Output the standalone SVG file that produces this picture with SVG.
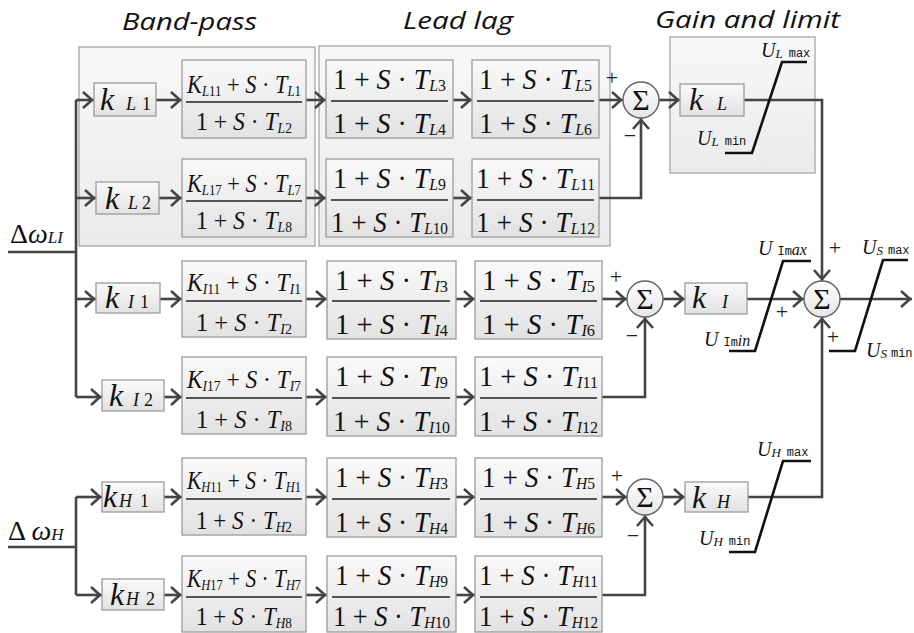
<svg xmlns="http://www.w3.org/2000/svg" width="914" height="633" viewBox="0 0 914 633">
<defs>
<linearGradient id="gb" x1="0" y1="0" x2="0" y2="1"><stop offset="0" stop-color="#fafafa"/><stop offset="1" stop-color="#e2e2e2"/></linearGradient>
<linearGradient id="gg" x1="0" y1="0" x2="0" y2="1"><stop offset="0" stop-color="#f8f8f8"/><stop offset="1" stop-color="#ebebeb"/></linearGradient>
<linearGradient id="gc" x1="0" y1="0" x2="0" y2="1"><stop offset="0" stop-color="#ffffff"/><stop offset="1" stop-color="#e6e6e6"/></linearGradient>
<marker id="ar" viewBox="-13 -10 14 20" refX="0" refY="0" markerWidth="14" markerHeight="20" markerUnits="userSpaceOnUse" orient="auto"><path d="M-11,-8 L-2,0 L-11,8" fill="none" stroke="#444" stroke-width="2.6"/></marker>
<style>
.t{font-family:"Liberation Serif",serif;fill:#111}
.i{font-style:italic}
.box{fill:url(#gb);stroke:#9c9c9c;stroke-width:1.3}
.grp{fill:url(#gg);stroke:#a6a6a6;stroke-width:1.3}
.sum{fill:url(#gc);stroke:#666;stroke-width:1.5}
.fl{stroke:#222;stroke-width:1.6}
.w{fill:none;stroke:#444;stroke-width:2.6}
.a{marker-end:url(#ar)}
.lim{fill:none;stroke:#111;stroke-width:2.6}
.bn{font-size:26px}
.ln{font-size:30px}
.sb{font-size:15px}
.sl{font-size:17px}
.kk{font-size:32px;font-style:italic}
.ks{font-size:18px}
.ttl{font-family:"Open Sans",sans-serif;font-style:italic;font-size:23px;fill:#111}
.sg{font-family:"Liberation Serif",serif;font-size:22px;fill:#222;text-anchor:middle}
.sig{font-family:"Liberation Serif",serif;font-size:30px;fill:#111;text-anchor:middle}
.u{font-family:"Liberation Serif",serif;font-style:italic;font-size:20px;fill:#111}
.us{font-size:13px}
.ui{font-size:16px}
.m{font-family:"Liberation Mono",monospace;font-style:normal;font-size:12px}
</style>
</defs>

<g id="titles">
<text class="ttl" x="122" y="30" textLength="135" lengthAdjust="spacingAndGlyphs">Band-pass</text>
<text class="ttl" x="403" y="29" textLength="110" lengthAdjust="spacingAndGlyphs">Lead lag</text>
<text class="ttl" x="655" y="28" textLength="185" lengthAdjust="spacingAndGlyphs">Gain and limit</text>
</g>

<g id="group-boxes">
<rect class="grp" x="79" y="47" width="236" height="199"/>
<rect class="grp" x="319" y="46" width="291" height="200"/>
<rect class="grp" x="670" y="37" width="145" height="136"/>
</g>

<g id="connectors">
<path class="w" d="M8,252 H76 M76,100 V397"/>
<path class="w a" d="M76,100 H94"/>
<path class="w a" d="M76,198 H96"/>
<path class="w a" d="M76,299 H96"/>
<path class="w a" d="M76,397 H102"/>
<path class="w" d="M8,547 H76 M76,497 V595"/>
<path class="w a" d="M76,497 H102"/>
<path class="w a" d="M76,595 H102"/>
<path class="w a" d="M156,100 H182"/>
<path class="w a" d="M159,198 H182"/>
<path class="w a" d="M160,299 H182"/>
<path class="w a" d="M164,397 H182"/>
<path class="w a" d="M164,497 H182"/>
<path class="w a" d="M164,595 H182"/>
<path class="w a" d="M306,100 H326"/>
<path class="w a" d="M306,198 H326"/>
<path class="w a" d="M306,299 H327"/>
<path class="w a" d="M306,397 H327"/>
<path class="w a" d="M306,497 H327"/>
<path class="w a" d="M306,595 H327"/>
<path class="w a" d="M453,100 H472"/>
<path class="w a" d="M453,198 H472"/>
<path class="w a" d="M456,299 H475"/>
<path class="w a" d="M456,397 H475"/>
<path class="w a" d="M456,497 H475"/>
<path class="w a" d="M456,595 H475"/>
<path class="w a" d="M599,100 H623"/>
<path class="w a" d="M599,198 H641 V118"/>
<path class="w a" d="M602,299 H627"/>
<path class="w a" d="M602,397 H645 V317"/>
<path class="w a" d="M602,497 H627"/>
<path class="w a" d="M602,595 H645 V515"/>
<path class="w a" d="M659,100 H680"/>
<path class="w a" d="M663,299 H685"/>
<path class="w a" d="M663,497 H685"/>
<path class="w a" d="M744,100 H822 V281"/>
<path class="w a" d="M747,299 H804"/>
<path class="w a" d="M748,497 H822 V317"/>
<path class="w a" d="M840,299 H912"/>
</g>

<g id="inputs">
<text class="t" x="10" y="243" font-size="28">Δ<tspan class="i">ω</tspan><tspan class="i" font-size="17">LI</tspan></text>
<text class="t" x="8" y="540" font-size="28">Δ <tspan class="i">ω</tspan><tspan class="i" font-size="17">H</tspan></text>
</g>

<g id="kL1"><rect class="box" x="94" y="83" width="62" height="33"/><text class="t" y="110"><tspan class="kk" x="100">k</tspan><tspan class="ks i" x="126">L</tspan><tspan class="ks" x="142">1</tspan></text></g>
<g id="kL2"><rect class="box" x="96" y="182" width="63" height="32"/><text class="t" y="209"><tspan class="kk" x="105">k</tspan><tspan class="ks i" x="128">L</tspan><tspan class="ks" x="142">2</tspan></text></g>
<g id="kI1"><rect class="box" x="96" y="283" width="64" height="30"/><text class="t" y="308"><tspan class="kk" x="105">k</tspan><tspan class="ks i" x="128">I</tspan><tspan class="ks" x="140">1</tspan></text></g>
<g id="kI2"><rect class="box" x="102" y="380" width="62" height="31"/><text class="t" y="406"><tspan class="kk" x="109">k</tspan><tspan class="ks i" x="133">I</tspan><tspan class="ks" x="144">2</tspan></text></g>
<g id="kH1"><rect class="box" x="102" y="482" width="62" height="30"/><text class="t" y="507"><tspan class="kk" x="103">k</tspan><tspan class="ks i" x="119">H</tspan><tspan class="ks" x="140">1</tspan></text></g>
<g id="kH2"><rect class="box" x="102" y="579" width="62" height="31"/><text class="t" y="605"><tspan class="kk" x="110">k</tspan><tspan class="ks i" x="126">H</tspan><tspan class="ks" x="146">2</tspan></text></g>
<g id="kL"><rect class="box" x="680" y="84" width="64" height="32"/><text class="t" y="110"><tspan class="kk" x="689">k</tspan><tspan class="ks i" x="717">L</tspan></text></g>
<g id="kI"><rect class="box" x="685" y="283" width="62" height="31"/><text class="t" y="308"><tspan class="kk" x="692">k</tspan><tspan class="ks i" x="722">I</tspan></text></g>
<g id="kH"><rect class="box" x="685" y="482" width="63" height="30"/><text class="t" y="508"><tspan class="kk" x="692">k</tspan><tspan class="ks i" x="717">H</tspan></text></g>

<g id="bpL1"><rect class="box" x="182" y="60" width="124" height="78"/><line class="fl" x1="186" y1="102" x2="302" y2="102"/>
<text class="t bn" x="244" y="93" text-anchor="middle" textLength="114" lengthAdjust="spacingAndGlyphs"><tspan class="i">K</tspan><tspan class="sb" dy="3"><tspan class="i">L</tspan>11</tspan><tspan dy="-3"> + </tspan><tspan class="i">S</tspan> · <tspan class="i">T</tspan><tspan class="sb" dy="3"><tspan class="i">L</tspan>1</tspan></text>
<text class="t bn" x="244" y="130" text-anchor="middle" textLength="96" lengthAdjust="spacingAndGlyphs">1 + <tspan class="i">S</tspan> · <tspan class="i">T</tspan><tspan class="sb" dy="3"><tspan class="i">L</tspan>2</tspan></text></g>
<g id="bpL2"><rect class="box" x="182" y="159" width="124" height="78"/><line class="fl" x1="186" y1="201" x2="302" y2="201"/>
<text class="t bn" x="244" y="192" text-anchor="middle" textLength="114" lengthAdjust="spacingAndGlyphs"><tspan class="i">K</tspan><tspan class="sb" dy="3"><tspan class="i">L</tspan>17</tspan><tspan dy="-3"> + </tspan><tspan class="i">S</tspan> · <tspan class="i">T</tspan><tspan class="sb" dy="3"><tspan class="i">L</tspan>7</tspan></text>
<text class="t bn" x="244" y="229" text-anchor="middle" textLength="96" lengthAdjust="spacingAndGlyphs">1 + <tspan class="i">S</tspan> · <tspan class="i">T</tspan><tspan class="sb" dy="3"><tspan class="i">L</tspan>8</tspan></text></g>
<g id="bpI1"><rect class="box" x="182" y="261" width="124" height="76"/><line class="fl" x1="186" y1="301" x2="302" y2="301"/>
<text class="t bn" x="244" y="291" text-anchor="middle" textLength="114" lengthAdjust="spacingAndGlyphs"><tspan class="i">K</tspan><tspan class="sb" dy="3"><tspan class="i">I</tspan>11</tspan><tspan dy="-3"> + </tspan><tspan class="i">S</tspan> · <tspan class="i">T</tspan><tspan class="sb" dy="3"><tspan class="i">I</tspan>1</tspan></text>
<text class="t bn" x="244" y="331" text-anchor="middle" textLength="96" lengthAdjust="spacingAndGlyphs">1 + <tspan class="i">S</tspan> · <tspan class="i">T</tspan><tspan class="sb" dy="3"><tspan class="i">I</tspan>2</tspan></text></g>
<g id="bpI2"><rect class="box" x="182" y="357" width="124" height="77"/><line class="fl" x1="186" y1="398" x2="302" y2="398"/>
<text class="t bn" x="244" y="388" text-anchor="middle" textLength="114" lengthAdjust="spacingAndGlyphs"><tspan class="i">K</tspan><tspan class="sb" dy="3"><tspan class="i">I</tspan>17</tspan><tspan dy="-3"> + </tspan><tspan class="i">S</tspan> · <tspan class="i">T</tspan><tspan class="sb" dy="3"><tspan class="i">I</tspan>7</tspan></text>
<text class="t bn" x="244" y="428" text-anchor="middle" textLength="96" lengthAdjust="spacingAndGlyphs">1 + <tspan class="i">S</tspan> · <tspan class="i">T</tspan><tspan class="sb" dy="3"><tspan class="i">I</tspan>8</tspan></text></g>
<g id="bpH1"><rect class="box" x="182" y="458" width="124" height="77"/><line class="fl" x1="186" y1="499" x2="302" y2="499"/>
<text class="t bn" x="244" y="489" text-anchor="middle" textLength="114" lengthAdjust="spacingAndGlyphs"><tspan class="i">K</tspan><tspan class="sb" dy="3"><tspan class="i">H</tspan>11</tspan><tspan dy="-3"> + </tspan><tspan class="i">S</tspan> · <tspan class="i">T</tspan><tspan class="sb" dy="3"><tspan class="i">H</tspan>1</tspan></text>
<text class="t bn" x="244" y="529" text-anchor="middle" textLength="96" lengthAdjust="spacingAndGlyphs">1 + <tspan class="i">S</tspan> · <tspan class="i">T</tspan><tspan class="sb" dy="3"><tspan class="i">H</tspan>2</tspan></text></g>
<g id="bpH2"><rect class="box" x="182" y="556" width="124" height="76"/><line class="fl" x1="186" y1="597" x2="302" y2="597"/>
<text class="t bn" x="244" y="587" text-anchor="middle" textLength="114" lengthAdjust="spacingAndGlyphs"><tspan class="i">K</tspan><tspan class="sb" dy="3"><tspan class="i">H</tspan>17</tspan><tspan dy="-3"> + </tspan><tspan class="i">S</tspan> · <tspan class="i">T</tspan><tspan class="sb" dy="3"><tspan class="i">H</tspan>7</tspan></text>
<text class="t bn" x="244" y="625" text-anchor="middle" textLength="96" lengthAdjust="spacingAndGlyphs">1 + <tspan class="i">S</tspan> · <tspan class="i">T</tspan><tspan class="sb" dy="3"><tspan class="i">H</tspan>8</tspan></text></g>

<g id="llL3"><rect class="box" x="326" y="60" width="127" height="78"/><line class="fl" x1="331" y1="101" x2="448" y2="101"/>
<text class="t ln" x="389.5" y="89" text-anchor="middle" textLength="113" lengthAdjust="spacingAndGlyphs">1 + <tspan class="i">S</tspan> · <tspan class="i">T</tspan><tspan class="sl" dy="2"><tspan class="i">L</tspan>3</tspan></text>
<text class="t ln" x="389.5" y="133" text-anchor="middle" textLength="113" lengthAdjust="spacingAndGlyphs">1 + <tspan class="i">S</tspan> · <tspan class="i">T</tspan><tspan class="sl" dy="2"><tspan class="i">L</tspan>4</tspan></text></g>
<g id="llL5"><rect class="box" x="472" y="60" width="127" height="78"/><line class="fl" x1="477" y1="101" x2="594" y2="101"/>
<text class="t ln" x="535.5" y="89" text-anchor="middle" textLength="113" lengthAdjust="spacingAndGlyphs">1 + <tspan class="i">S</tspan> · <tspan class="i">T</tspan><tspan class="sl" dy="2"><tspan class="i">L</tspan>5</tspan></text>
<text class="t ln" x="535.5" y="133" text-anchor="middle" textLength="113" lengthAdjust="spacingAndGlyphs">1 + <tspan class="i">S</tspan> · <tspan class="i">T</tspan><tspan class="sl" dy="2"><tspan class="i">L</tspan>6</tspan></text></g>
<g id="llL9"><rect class="box" x="326" y="159" width="127" height="78"/><line class="fl" x1="331" y1="200" x2="448" y2="200"/>
<text class="t ln" x="389.5" y="188" text-anchor="middle" textLength="113" lengthAdjust="spacingAndGlyphs">1 + <tspan class="i">S</tspan> · <tspan class="i">T</tspan><tspan class="sl" dy="2"><tspan class="i">L</tspan>9</tspan></text>
<text class="t ln" x="389.5" y="232" text-anchor="middle" textLength="117" lengthAdjust="spacingAndGlyphs">1 + <tspan class="i">S</tspan> · <tspan class="i">T</tspan><tspan class="sl" dy="2"><tspan class="i">L</tspan>10</tspan></text></g>
<g id="llL11"><rect class="box" x="472" y="159" width="127" height="78"/><line class="fl" x1="477" y1="200" x2="594" y2="200"/>
<text class="t ln" x="535.5" y="188" text-anchor="middle" textLength="119" lengthAdjust="spacingAndGlyphs">1 + <tspan class="i">S</tspan> · <tspan class="i">T</tspan><tspan class="sl" dy="2"><tspan class="i">L</tspan>11</tspan></text>
<text class="t ln" x="535.5" y="232" text-anchor="middle" textLength="119" lengthAdjust="spacingAndGlyphs">1 + <tspan class="i">S</tspan> · <tspan class="i">T</tspan><tspan class="sl" dy="2"><tspan class="i">L</tspan>12</tspan></text></g>

<g id="llI3"><rect class="box" x="327" y="261" width="129" height="78"/><line class="fl" x1="332" y1="301" x2="450" y2="301"/>
<text class="t ln" x="391.5" y="290" text-anchor="middle" textLength="113" lengthAdjust="spacingAndGlyphs">1 + <tspan class="i">S</tspan> · <tspan class="i">T</tspan><tspan class="sl" dy="2"><tspan class="i">I</tspan>3</tspan></text>
<text class="t ln" x="391.5" y="334" text-anchor="middle" textLength="113" lengthAdjust="spacingAndGlyphs">1 + <tspan class="i">S</tspan> · <tspan class="i">T</tspan><tspan class="sl" dy="2"><tspan class="i">I</tspan>4</tspan></text></g>
<g id="llI5"><rect class="box" x="475" y="261" width="127" height="78"/><line class="fl" x1="480" y1="301" x2="597" y2="301"/>
<text class="t ln" x="538.5" y="290" text-anchor="middle" textLength="113" lengthAdjust="spacingAndGlyphs">1 + <tspan class="i">S</tspan> · <tspan class="i">T</tspan><tspan class="sl" dy="2"><tspan class="i">I</tspan>5</tspan></text>
<text class="t ln" x="538.5" y="334" text-anchor="middle" textLength="113" lengthAdjust="spacingAndGlyphs">1 + <tspan class="i">S</tspan> · <tspan class="i">T</tspan><tspan class="sl" dy="2"><tspan class="i">I</tspan>6</tspan></text></g>
<g id="llI9"><rect class="box" x="327" y="357" width="129" height="79"/><line class="fl" x1="332" y1="398" x2="450" y2="398"/>
<text class="t ln" x="391.5" y="386" text-anchor="middle" textLength="113" lengthAdjust="spacingAndGlyphs">1 + <tspan class="i">S</tspan> · <tspan class="i">T</tspan><tspan class="sl" dy="2"><tspan class="i">I</tspan>9</tspan></text>
<text class="t ln" x="391.5" y="431" text-anchor="middle" textLength="117" lengthAdjust="spacingAndGlyphs">1 + <tspan class="i">S</tspan> · <tspan class="i">T</tspan><tspan class="sl" dy="2"><tspan class="i">I</tspan>10</tspan></text></g>
<g id="llI11"><rect class="box" x="475" y="357" width="127" height="79"/><line class="fl" x1="480" y1="398" x2="597" y2="398"/>
<text class="t ln" x="538.5" y="386" text-anchor="middle" textLength="119" lengthAdjust="spacingAndGlyphs">1 + <tspan class="i">S</tspan> · <tspan class="i">T</tspan><tspan class="sl" dy="2"><tspan class="i">I</tspan>11</tspan></text>
<text class="t ln" x="538.5" y="431" text-anchor="middle" textLength="119" lengthAdjust="spacingAndGlyphs">1 + <tspan class="i">S</tspan> · <tspan class="i">T</tspan><tspan class="sl" dy="2"><tspan class="i">I</tspan>12</tspan></text></g>

<g id="llH3"><rect class="box" x="327" y="458" width="129" height="79"/><line class="fl" x1="332" y1="499" x2="450" y2="499"/>
<text class="t ln" x="391.5" y="487" text-anchor="middle" textLength="113" lengthAdjust="spacingAndGlyphs">1 + <tspan class="i">S</tspan> · <tspan class="i">T</tspan><tspan class="sl" dy="2"><tspan class="i">H</tspan>3</tspan></text>
<text class="t ln" x="391.5" y="532" text-anchor="middle" textLength="113" lengthAdjust="spacingAndGlyphs">1 + <tspan class="i">S</tspan> · <tspan class="i">T</tspan><tspan class="sl" dy="2"><tspan class="i">H</tspan>4</tspan></text></g>
<g id="llH5"><rect class="box" x="475" y="458" width="127" height="79"/><line class="fl" x1="480" y1="499" x2="597" y2="499"/>
<text class="t ln" x="538.5" y="487" text-anchor="middle" textLength="113" lengthAdjust="spacingAndGlyphs">1 + <tspan class="i">S</tspan> · <tspan class="i">T</tspan><tspan class="sl" dy="2"><tspan class="i">H</tspan>5</tspan></text>
<text class="t ln" x="538.5" y="532" text-anchor="middle" textLength="113" lengthAdjust="spacingAndGlyphs">1 + <tspan class="i">S</tspan> · <tspan class="i">T</tspan><tspan class="sl" dy="2"><tspan class="i">H</tspan>6</tspan></text></g>
<g id="llH9"><rect class="box" x="327" y="556" width="129" height="76"/><line class="fl" x1="332" y1="597" x2="450" y2="597"/>
<text class="t ln" x="391.5" y="585" text-anchor="middle" textLength="113" lengthAdjust="spacingAndGlyphs">1 + <tspan class="i">S</tspan> · <tspan class="i">T</tspan><tspan class="sl" dy="2"><tspan class="i">H</tspan>9</tspan></text>
<text class="t ln" x="391.5" y="626" text-anchor="middle" textLength="117" lengthAdjust="spacingAndGlyphs">1 + <tspan class="i">S</tspan> · <tspan class="i">T</tspan><tspan class="sl" dy="2"><tspan class="i">H</tspan>10</tspan></text></g>
<g id="llH11"><rect class="box" x="475" y="556" width="127" height="76"/><line class="fl" x1="480" y1="597" x2="597" y2="597"/>
<text class="t ln" x="538.5" y="585" text-anchor="middle" textLength="119" lengthAdjust="spacingAndGlyphs">1 + <tspan class="i">S</tspan> · <tspan class="i">T</tspan><tspan class="sl" dy="2"><tspan class="i">H</tspan>11</tspan></text>
<text class="t ln" x="538.5" y="626" text-anchor="middle" textLength="119" lengthAdjust="spacingAndGlyphs">1 + <tspan class="i">S</tspan> · <tspan class="i">T</tspan><tspan class="sl" dy="2"><tspan class="i">H</tspan>12</tspan></text></g>

<g id="sumL"><circle class="sum" cx="641" cy="100" r="18"/><text class="sig" x="641" y="110">Σ</text><text class="sg" x="612" y="85">+</text><text class="sg" x="630" y="143">−</text></g>
<g id="sumI"><circle class="sum" cx="645" cy="299" r="18"/><text class="sig" x="645" y="309">Σ</text><text class="sg" x="616" y="284">+</text><text class="sg" x="632" y="343">−</text></g>
<g id="sumH"><circle class="sum" cx="645" cy="497" r="18"/><text class="sig" x="645" y="507">Σ</text><text class="sg" x="617" y="483">+</text><text class="sg" x="633" y="543">−</text></g>
<g id="sumS"><circle class="sum" cx="822" cy="299" r="18"/><text class="sig" x="822" y="309">Σ</text><text class="sg" x="835" y="255">+</text><text class="sg" x="782" y="319">+</text><text class="sg" x="833" y="344">+</text></g>

<g id="limL"><path class="lim" d="M725,153 H752 L782,62 H807"/>
<text class="u" x="761" y="57">U<tspan class="us" dy="1">L</tspan><tspan class="m" dx="6" dy="-1">max</tspan></text>
<text class="u" x="697" y="145">U<tspan class="us" dy="1">L</tspan><tspan class="m" dx="6" dy="-1">min</tspan></text></g>
<g id="limI"><path class="lim" d="M729,351 H755 L783,261 H811"/>
<text class="u" x="758" y="255">U <tspan class="m">Im</tspan><tspan class="ui">ax</tspan></text>
<text class="u" x="704" y="346">U <tspan class="m">Im</tspan><tspan class="ui">in</tspan></text></g>
<g id="limS"><path class="lim" d="M829,351 H855 L883,260 H908"/>
<text class="u" x="862" y="254">U<tspan class="us" dy="1">S</tspan><tspan class="m" dx="5" dy="-1">max</tspan></text>
<text class="u" x="866" y="357">U<tspan class="us" dy="1">S</tspan><tspan class="m" dx="4" dy="-1">min</tspan></text></g>
<g id="limH"><path class="lim" d="M729,552 H755 L783,461 H811"/>
<text class="u" x="757" y="456">U<tspan class="us" dy="1">H</tspan><tspan class="m" dx="6" dy="-1">max</tspan></text>
<text class="u" x="699" y="545">U<tspan class="us" dy="1">H</tspan><tspan class="m" dx="6" dy="-1">min</tspan></text></g>
</svg>
